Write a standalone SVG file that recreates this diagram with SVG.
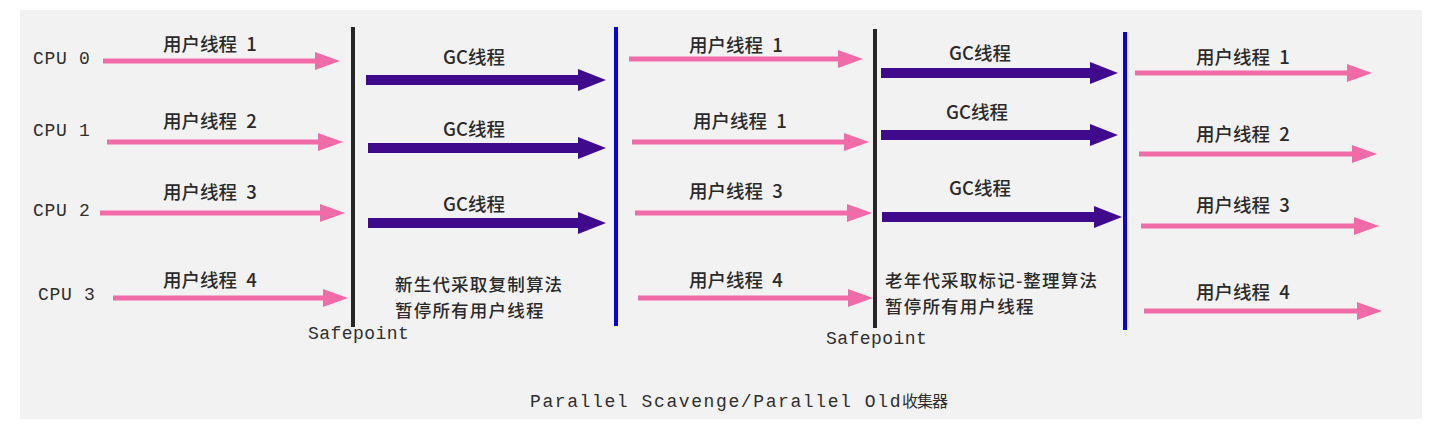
<svg xmlns="http://www.w3.org/2000/svg" width="1448" height="433" viewBox="0 0 1448 433">
<style>
.mono{font-family:"Liberation Mono","DejaVu Sans Mono",monospace;font-size:18px;fill:#2e2e2e}
.cjk{font-family:"Noto Sans CJK SC","Noto Sans",sans-serif;font-size:18.5px;font-weight:500;fill:#2a2a2a}
.note{font-size:17.5px}
.pink{stroke:#f06ba8;stroke-width:5;fill:none;marker-end:url(#hp)}
.gc{stroke:#3f0a8c;stroke-width:10;fill:none;marker-end:url(#hg)}
.bar-k{stroke:#262626;stroke-width:4}
.bar-b{stroke:#0a00ee;stroke-width:4}
</style>
<defs>
<marker id="hp" markerUnits="userSpaceOnUse" markerWidth="26" markerHeight="18" refX="1" refY="9" orient="auto">
<path d="M0,0 L25,9 L0,18 Z" fill="#f06ba8"/>
</marker>
<marker id="hg" markerUnits="userSpaceOnUse" markerWidth="29" markerHeight="22" refX="1" refY="11" orient="auto">
<path d="M0,0 L28,11 L0,22 Z" fill="#3f0a8c"/>
</marker>
</defs>
<rect x="0" y="0" width="1448" height="433" fill="#ffffff"/>
<rect x="20" y="10" width="1402" height="409" fill="#f2f2f2"/>

<g id="cpu-labels">
<g id="cpu0"><text class="mono" x="33" y="64" letter-spacing="0.7">CPU 0</text></g>
<g id="cpu1"><text class="mono" x="33" y="136" letter-spacing="0.7">CPU 1</text></g>
<g id="cpu2"><text class="mono" x="33" y="216" letter-spacing="0.7">CPU 2</text></g>
<g id="cpu3"><text class="mono" x="38" y="300" letter-spacing="0.7">CPU 3</text></g>
</g>

<g id="safepoint1">
<line class="bar-k" x1="353" y1="27" x2="353" y2="327"/>
<text class="mono" x="308" y="339" letter-spacing="0.45">Safepoint</text>
</g>
<g id="resume1">
<line class="bar-b" x1="616" y1="27" x2="616" y2="326"/>
</g>
<g id="safepoint2">
<line class="bar-k" x1="875" y1="29" x2="875" y2="328"/>
<text class="mono" x="826" y="344" letter-spacing="0.45">Safepoint</text>
</g>
<g id="resume2">
<line class="bar-b" x1="1125" y1="32" x2="1125" y2="330"/>
</g>

<g id="note-young">
<text class="cjk note" x="395" y="291" letter-spacing="1.2">新生代采取复制算法</text>
<text class="cjk note" x="395" y="317" letter-spacing="1.2">暂停所有用户线程</text>
</g>
<g id="note-old">
<text class="cjk note" x="885" y="287" letter-spacing="1.2">老年代采取标记-整理算法</text>
<text class="cjk note" x="885" y="313" letter-spacing="1.2">暂停所有用户线程</text>
</g>

<g id="title">
<text class="mono" x="530" y="407" letter-spacing="1.6">Parallel Scavenge/Parallel Old<tspan style="font-family:'Noto Sans CJK SC',sans-serif;font-size:16px" letter-spacing="-1">收集器</tspan></text>
</g>

<g id="connectors">
<line class="pink" x1="103" y1="61" x2="316" y2="61"/>
<line class="pink" x1="107" y1="142" x2="319" y2="142"/>
<line class="pink" x1="100" y1="213" x2="321" y2="213"/>
<line class="pink" x1="113" y1="298" x2="324" y2="298"/>
<line class="gc" x1="366" y1="80" x2="579" y2="80"/>
<line class="gc" x1="368" y1="148" x2="579" y2="148"/>
<line class="gc" x1="368" y1="223" x2="579" y2="223"/>
<line class="pink" x1="629" y1="59" x2="839" y2="59"/>
<line class="pink" x1="632" y1="142" x2="845" y2="142"/>
<line class="pink" x1="635" y1="213" x2="848" y2="213"/>
<line class="pink" x1="638" y1="298" x2="849" y2="298"/>
<line class="gc" x1="881" y1="73" x2="1091" y2="73"/>
<line class="gc" x1="881" y1="135" x2="1091" y2="135"/>
<line class="gc" x1="882" y1="217" x2="1095" y2="217"/>
<line class="pink" x1="1135" y1="73" x2="1348" y2="73"/>
<line class="pink" x1="1139" y1="154" x2="1353" y2="154"/>
<line class="pink" x1="1141" y1="226" x2="1355" y2="226"/>
<line class="pink" x1="1144" y1="311" x2="1358" y2="311"/>
</g>

<g id="connector-labels">
<text class="cjk" x="163" y="51">用户线程 <tspan dx="5">1</tspan></text>
<text class="cjk" x="163" y="128">用户线程 <tspan dx="5">2</tspan></text>
<text class="cjk" x="163" y="199">用户线程 <tspan dx="5">3</tspan></text>
<text class="cjk" x="163" y="287">用户线程 <tspan dx="5">4</tspan></text>

<text class="cjk" x="443" y="64">GC线程</text>
<text class="cjk" x="443" y="136">GC线程</text>
<text class="cjk" x="443" y="211">GC线程</text>

<text class="cjk" x="689" y="52">用户线程 <tspan dx="5">1</tspan></text>
<text class="cjk" x="693" y="128">用户线程 <tspan dx="5">1</tspan></text>
<text class="cjk" x="689" y="198">用户线程 <tspan dx="5">3</tspan></text>
<text class="cjk" x="689" y="287">用户线程 <tspan dx="5">4</tspan></text>

<text class="cjk" x="949" y="60">GC线程</text>
<text class="cjk" x="946" y="119">GC线程</text>
<text class="cjk" x="949" y="195">GC线程</text>

<text class="cjk" x="1196" y="64">用户线程 <tspan dx="5">1</tspan></text>
<text class="cjk" x="1196" y="141">用户线程 <tspan dx="5">2</tspan></text>
<text class="cjk" x="1196" y="212">用户线程 <tspan dx="5">3</tspan></text>
<text class="cjk" x="1196" y="299">用户线程 <tspan dx="5">4</tspan></text>
</g>
</svg>
